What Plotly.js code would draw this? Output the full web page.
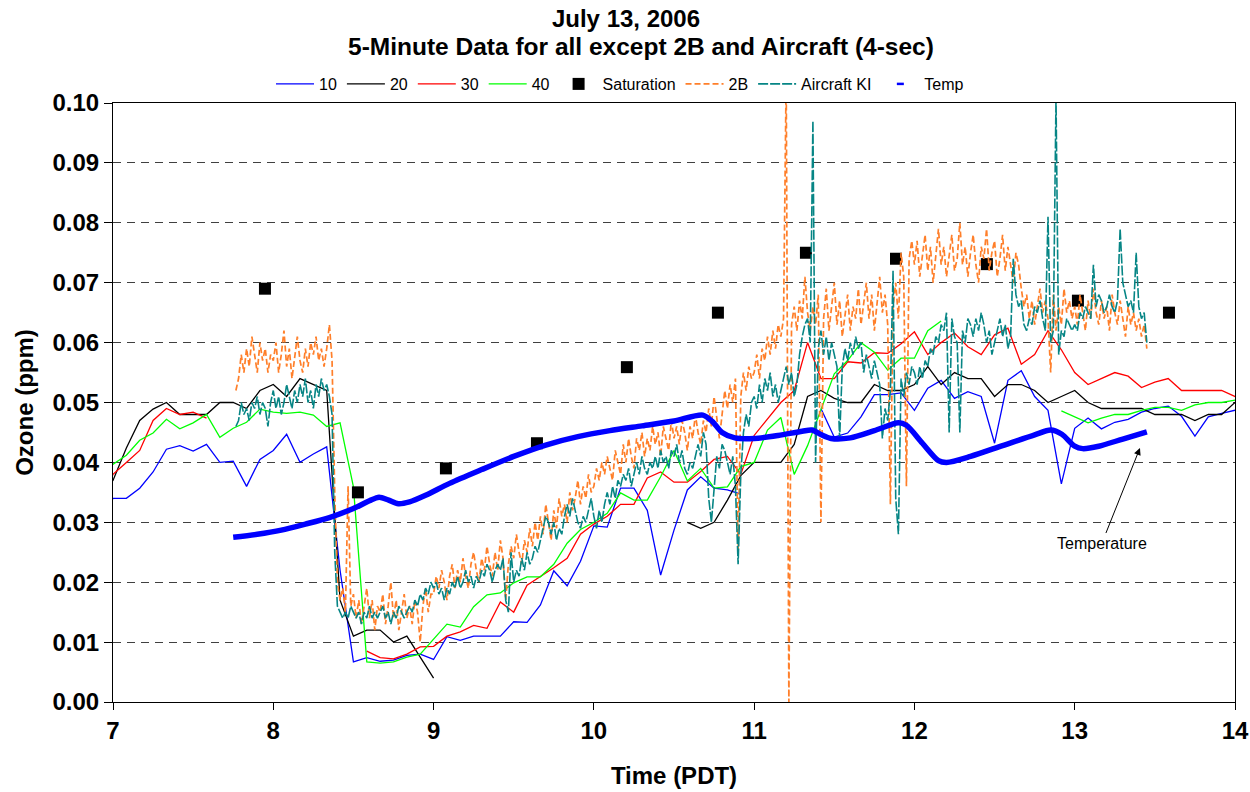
<!DOCTYPE html>
<html>
<head>
<meta charset="utf-8">
<script src="https://cdn.plot.ly/plotly-3.0.1.min.js"></script>
<style>html,body{margin:0;padding:0;background:#fff;}#chart{width:1250px;height:792px;}</style>
</head>
<body>
<div id="chart"></div>
<script>
// ---------- 5-minute data (6:55 ... 14:05, one value every 5 minutes) ----------
const fiveMinStart = 6 + 55 / 60;
const v10 = [0.030,
  0.034, 0.034, 0.0357, 0.0384, 0.0422, 0.0428, 0.0419, 0.043, 0.040, 0.0402, 0.036, 0.0405,
  0.042, 0.0447, 0.040, 0.0414, 0.0426, 0.022, 0.0067, 0.0074, 0.0068, 0.007, 0.0078, 0.008,
  0.0071, 0.0109, 0.0103, 0.011, 0.011, 0.011, 0.0134, 0.0133, 0.0162, 0.0219, 0.0194, 0.0235,
  0.0294, 0.0292, 0.0357, 0.0357, 0.032, 0.0212, 0.0287, 0.0354, 0.0376, 0.0357, 0.0354, 0.0347,
  null, null, null, null, null, 0.049, 0.0442, 0.0449, 0.0476, 0.0513, 0.0513, 0.0516,
  0.0487, 0.0524, 0.0537, 0.0507, 0.0518, 0.051, 0.0432, 0.0537, 0.0553, 0.051, 0.0487, 0.0364,
  0.0457, 0.0474, 0.0456, 0.0467, 0.0472, 0.0484, 0.049, 0.0494, 0.0477, 0.0444, 0.0476, 0.0482,
  0.0487, 0.048];
const v20 = [0.038,
  0.037, 0.0424, 0.047, 0.0489, 0.050, 0.048, 0.048, 0.048, 0.050, 0.050, 0.049, 0.052,
  0.053, 0.051, 0.054, 0.053, 0.052, 0.017, 0.011, 0.012, 0.012, 0.010, 0.011, 0.0075,
  0.004, null, null, null, null, null, null, null, null, null, null, null,
  null, null, null, null, null, null, null, 0.030, 0.029, 0.030, 0.0337, 0.0378,
  0.040, 0.040, 0.040, 0.043, 0.051, 0.052, 0.0507, 0.050, 0.050, 0.053, 0.052, 0.052,
  0.053, 0.056, 0.053, 0.055, 0.054, 0.054, 0.051, 0.053, 0.053, 0.052, 0.050, 0.051,
  0.052, 0.050, 0.049, 0.049, 0.049, 0.049, 0.048, 0.048, 0.048, 0.047, 0.048, 0.048,
  0.050, 0.049];
const v30 = [0.033,
  0.038, 0.040, 0.042, 0.047, 0.049, 0.048, 0.0484, 0.0474, null, null, null, null,
  null, null, null, null, null, null, null, 0.0085, 0.0074, 0.0072, 0.008, 0.0092,
  0.0093, 0.011, 0.0117, 0.0128, 0.0123, 0.0167, 0.015, 0.0195, 0.0209, 0.0224, 0.024, 0.028,
  0.0297, 0.031, 0.033, 0.033, 0.0374, 0.0384, 0.0367, 0.0367, 0.0385, 0.0405, 0.041, 0.038,
  0.0445, 0.0473, 0.050, 0.052, 0.060, 0.054, 0.054, 0.0568, 0.0566, 0.0583, 0.0582, 0.0598,
  0.0618, 0.058, 0.060, 0.0616, 0.0593, 0.058, 0.0613, 0.0624, 0.0564, 0.058, 0.062, 0.0588,
  0.055, 0.053, 0.054, 0.055, 0.0544, 0.0525, 0.0534, 0.054, 0.052, 0.052, 0.052, 0.052,
  0.051, 0.053];
const v40 = [0.040,
  0.0397, 0.0412, 0.0437, 0.0449, 0.0472, 0.0456, 0.0466, 0.048, 0.0442, 0.0457, 0.0467, 0.0489,
  0.0484, 0.0482, 0.0484, 0.0479, 0.046, 0.0466, 0.0359, 0.0067, 0.0065, 0.0067, 0.0075, 0.008,
  0.0105, 0.013, 0.0125, 0.0159, 0.0179, 0.0182, 0.0199, 0.0209, 0.0209, 0.023, 0.0265, 0.0288,
  0.030, 0.0315, 0.0349, 0.0337, 0.0337, 0.0376, 0.042, 0.0369, 0.039, 0.0357, 0.0359, 0.0393,
  0.040, 0.0454, 0.0475, 0.038, 0.0428, 0.0487, 0.0548, 0.057, 0.060, 0.0584, 0.0554, 0.0574,
  0.0574, 0.062, 0.0636, null, null, null, null, null, null, null, null, 0.0486,
  0.0476, 0.0466, 0.0474, 0.048, 0.048, 0.0487, 0.0492, 0.0492, 0.0487, 0.0496, 0.050, 0.050,
  0.0504, 0.050];

// ---------- Saturation ----------
const satTime = [7.948, 8.528, 9.077, 9.645, 10.206, 10.774, 11.323, 11.885, 12.452, 13.02, 13.588];
const satVal  = [0.069, 0.035, 0.039, 0.0432, 0.0559, 0.065, 0.075, 0.074, 0.0731, 0.067, 0.065];

// ---------- 2B and Aircraft KI (read at 1-minute spacing, 7:46 ... 13:27) ----------
const fastStart = 7 + 46 / 60;
const b2 = [
  0.052, 0.054, 0.058, 0.055, 0.059, 0.056, 0.061, 0.058, 0.055, 0.060, 0.057, 0.059, 0.055, 0.058,
  // 8:00
  0.057, 0.060, 0.055, 0.058, 0.062, 0.056, 0.059, 0.054, 0.058, 0.061,
  0.057, 0.055, 0.059, 0.056, 0.060, 0.058, 0.061, 0.057, 0.059, 0.056,
  0.059, 0.063, 0.057, 0.035, 0.020, 0.017, 0.019, 0.015, 0.036, 0.016,
  0.018, 0.014, 0.017, 0.013, 0.016, 0.019, 0.014, 0.017, 0.012, 0.016,
  0.015, 0.018, 0.013, 0.016, 0.020, 0.014, 0.017, 0.012, 0.015, 0.018,
  0.014, 0.016, 0.013, 0.017, 0.015, 0.010, 0.016, 0.019, 0.015, 0.018,
  // 9:00
  0.018, 0.021, 0.019, 0.022, 0.020, 0.017, 0.021, 0.023, 0.019, 0.022,
  0.020, 0.024, 0.021, 0.019, 0.023, 0.025, 0.022, 0.020, 0.024, 0.022,
  0.026, 0.023, 0.021, 0.025, 0.022, 0.027, 0.024, 0.017, 0.023, 0.026,
  0.024, 0.028, 0.025, 0.023, 0.027, 0.025, 0.029, 0.026, 0.030, 0.027,
  0.031, 0.028, 0.033, 0.030, 0.027, 0.032, 0.029, 0.034, 0.031, 0.033,
  0.030, 0.035, 0.032, 0.034, 0.037, 0.033, 0.036, 0.034, 0.038, 0.035,
  // 10:00
  0.036, 0.039, 0.037, 0.040, 0.038, 0.041, 0.039, 0.037, 0.042, 0.040,
  0.038, 0.043, 0.040, 0.044, 0.041, 0.039, 0.044, 0.042, 0.045, 0.041,
  0.044, 0.042, 0.046, 0.043, 0.045, 0.041, 0.046, 0.044, 0.042, 0.047,
  0.044, 0.046, 0.043, 0.047, 0.045, 0.042, 0.046, 0.044, 0.048, 0.045,
  0.043, 0.047, 0.045, 0.049, 0.046, 0.051, 0.047, 0.044, 0.048, 0.052,
  0.049, 0.053, 0.050, 0.054, 0.025, 0.051, 0.055, 0.052, 0.056, 0.054,
  // 11:00
  0.055, 0.058, 0.054, 0.059, 0.057, 0.061, 0.058, 0.062, 0.059, 0.063,
  0.061, 0.064, 0.105, 0.000, 0.063, 0.066, 0.062, 0.067, 0.064, 0.071,
  0.065, 0.062, 0.066, 0.063, 0.068, 0.030, 0.064, 0.069, 0.062, 0.066,
  0.070, 0.063, 0.067, 0.061, 0.065, 0.068, 0.062, 0.066, 0.064, 0.069,
  0.063, 0.067, 0.070, 0.064, 0.068, 0.062, 0.066, 0.071, 0.065, 0.068,
  0.063, 0.033, 0.066, 0.070, 0.064, 0.075, 0.071, 0.036, 0.074, 0.077,
  // 12:00
  0.073, 0.077, 0.071, 0.075, 0.078, 0.072, 0.076, 0.070, 0.074, 0.079,
  0.073, 0.076, 0.071, 0.075, 0.078, 0.072, 0.074, 0.080, 0.073, 0.076,
  0.071, 0.075, 0.078, 0.073, 0.070, 0.076, 0.074, 0.079, 0.072, 0.075,
  0.077, 0.071, 0.074, 0.078, 0.072, 0.076, 0.073, 0.070, 0.075, 0.073,
  0.069, 0.066, 0.068, 0.064, 0.067, 0.063, 0.066, 0.069, 0.065, 0.067,
  0.064, 0.055, 0.068, 0.062, 0.066, 0.063, 0.069, 0.065, 0.067, 0.064,
  // 13:00
  0.066, 0.063, 0.068, 0.065, 0.062, 0.067, 0.064, 0.069, 0.065, 0.063,
  0.067, 0.064, 0.066, 0.062, 0.068, 0.065, 0.063, 0.067, 0.064, 0.061,
  0.066, 0.063, 0.065, 0.062, 0.064, 0.061, 0.063, 0.059];
const ki = [
  0.046, 0.047, 0.050, 0.048, 0.049, 0.047, 0.050, 0.049, 0.051, 0.048, 0.050, 0.049, 0.046, 0.050,
  // 8:00
  0.052, 0.049, 0.051, 0.048, 0.050, 0.053, 0.051, 0.049, 0.052, 0.050,
  0.053, 0.051, 0.054, 0.050, 0.052, 0.049, 0.053, 0.051, 0.054, 0.052,
  0.053, 0.051, 0.048, 0.025, 0.016, 0.015, 0.014, 0.015, 0.014, 0.016,
  0.015, 0.014, 0.015, 0.013, 0.015, 0.014, 0.016, 0.014, 0.015, 0.014,
  0.015, 0.016, 0.014, 0.015, 0.013, 0.015, 0.014, 0.016, 0.015, 0.014,
  0.015, 0.016, 0.015, 0.017, 0.016, 0.018, 0.017, 0.019, 0.018, 0.020,
  // 9:00
  0.019, 0.020, 0.018, 0.019, 0.017, 0.019, 0.018, 0.020, 0.019, 0.021,
  0.019, 0.020, 0.022, 0.020, 0.021, 0.019, 0.021, 0.020, 0.022, 0.021,
  0.023, 0.022, 0.020, 0.022, 0.023, 0.022, 0.024, 0.017, 0.015, 0.025,
  0.020, 0.022, 0.021, 0.024, 0.022, 0.025, 0.023, 0.024, 0.026, 0.025,
  0.027, 0.029, 0.031, 0.030, 0.028, 0.030, 0.027, 0.029, 0.028, 0.031,
  0.033, 0.031, 0.034, 0.032, 0.030, 0.029, 0.031, 0.030, 0.032, 0.034,
  // 10:00
  0.031, 0.029, 0.032, 0.030, 0.033, 0.035, 0.033, 0.036, 0.034, 0.037,
  0.036, 0.038, 0.037, 0.039, 0.036, 0.038, 0.040, 0.038, 0.041, 0.039,
  0.038, 0.040, 0.039, 0.041, 0.039, 0.042, 0.040, 0.041, 0.039, 0.042,
  0.041, 0.043, 0.040, 0.042, 0.039, 0.038, 0.040, 0.039, 0.041, 0.043,
  0.041, 0.045, 0.043, 0.034, 0.030, 0.036, 0.041, 0.039, 0.043, 0.042,
  0.040, 0.038, 0.041, 0.036, 0.023, 0.038, 0.045, 0.048, 0.046, 0.050,
  // 11:00
  0.051, 0.049, 0.053, 0.050, 0.054, 0.052, 0.055, 0.051, 0.053, 0.050,
  0.052, 0.054, 0.056, 0.053, 0.055, 0.051, 0.053, 0.058, 0.061, 0.063,
  0.064, 0.060, 0.097, 0.040, 0.059, 0.062, 0.058, 0.061, 0.057, 0.060,
  0.058, 0.056, 0.044, 0.056, 0.059, 0.057, 0.060, 0.058, 0.061, 0.059,
  0.060, 0.055, 0.058, 0.056, 0.054, 0.057, 0.055, 0.053, 0.044, 0.049,
  0.047, 0.052, 0.072, 0.034, 0.028, 0.054, 0.051, 0.055, 0.053, 0.056,
  // 12:00
  0.055, 0.053, 0.056, 0.054, 0.057, 0.056, 0.059, 0.058, 0.061, 0.060,
  0.063, 0.062, 0.065, 0.045, 0.064, 0.061, 0.060, 0.045, 0.062, 0.060,
  0.064, 0.063, 0.061, 0.064, 0.062, 0.065, 0.063, 0.060, 0.062, 0.058,
  0.060, 0.062, 0.064, 0.061, 0.063, 0.059, 0.061, 0.074, 0.068, 0.066,
  0.067, 0.063, 0.062, 0.064, 0.063, 0.066, 0.065, 0.067, 0.064, 0.062,
  0.081, 0.060, 0.062, 0.101, 0.058, 0.062, 0.061, 0.064, 0.063, 0.062,
  // 13:00
  0.063, 0.062, 0.065, 0.064, 0.066, 0.065, 0.064, 0.073, 0.066, 0.068,
  0.067, 0.065, 0.066, 0.068, 0.066, 0.065, 0.067, 0.079, 0.070, 0.068,
  0.066, 0.067, 0.065, 0.075, 0.066, 0.064, 0.065, 0.060];

// ---------- Temperature (scaled onto the ozone axis) ----------
const tempTime = [7.75, 7.9, 8.05, 8.2, 8.35, 8.5, 8.6, 8.66, 8.72, 8.78, 8.85, 8.95, 9.1, 9.3, 9.5, 9.7, 9.9,
  10.1, 10.3, 10.5, 10.68, 10.74, 10.8, 10.88, 11.0, 11.15, 11.3, 11.36, 11.42, 11.48, 11.6, 11.75, 11.9,
  11.95, 12.05, 12.15, 12.2, 12.35, 12.55, 12.75, 12.85, 12.92, 13.0, 13.05, 13.15, 13.3, 13.45];
const tempVal = [0.0275, 0.0280, 0.0287, 0.0297, 0.0308, 0.0323, 0.0336, 0.0342, 0.0337, 0.0331, 0.0334, 0.0345,
  0.0365, 0.0388, 0.0410, 0.0429, 0.0443, 0.0453, 0.0461, 0.0469, 0.0479, 0.0468, 0.0450, 0.0441, 0.0440,
  0.0445, 0.0452, 0.0454, 0.0446, 0.0440, 0.0441, 0.0453, 0.0466, 0.0462, 0.0432, 0.0403, 0.0400, 0.0410,
  0.0428, 0.0446, 0.0454, 0.0447, 0.0427, 0.0423, 0.0427, 0.0439, 0.0451];

const legendNames = ['10', '20', '30', '40', 'Saturation', '2B', 'Aircraft KI', 'Temp'];
const yTicks = [0, 0.01, 0.02, 0.03, 0.04, 0.05, 0.06, 0.07, 0.08, 0.09, 0.10];
const xTicks = [7, 8, 9, 10, 11, 12, 13, 14];

// ---------- build ----------
const t5 = v10.map((_, i) => fiveMinStart + i / 12);
const tFast = b2.map((_, i) => fastStart + i / 60);

const FONT = 'Liberation Sans, Arial, Helvetica, sans-serif';
const line5 = (name, y, color) => ({
  type: 'scatter', mode: 'lines', name: name, x: t5, y: y,
  line: {color: color, width: 1.3}, connectgaps: false
});

const traces = [
  line5(legendNames[0], v10, '#0000FF'),
  line5(legendNames[1], v20, '#000000'),
  line5(legendNames[2], v30, '#FF0000'),
  line5(legendNames[3], v40, '#00FF00'),
  {type: 'scatter', mode: 'markers', name: legendNames[4], x: satTime, y: satVal,
   marker: {symbol: 'square', size: 12, color: '#000000'}},
  {type: 'scatter', mode: 'lines', name: legendNames[5], x: tFast, y: b2,
   line: {color: '#FF7F2A', width: 1.7, dash: '6px,3px'}},
  {type: 'scatter', mode: 'lines', name: legendNames[6], x: tFast, y: ki,
   line: {color: '#068585', width: 1.6, dash: '10px,2px'}},
  {type: 'scatter', mode: 'markers', name: legendNames[7], x: [null], y: [null], legendgroup: 'temp',
   marker: {symbol: 'line-ew-open', size: 5, color: '#0000FF', line: {color: '#0000FF', width: 2.5}}},
  {type: 'scatter', mode: 'lines', name: legendNames[7], x: tempTime, y: tempVal, legendgroup: 'temp',
   showlegend: false, line: {color: '#0000FF', width: 5.5, shape: 'spline', smoothing: 0.8}}
];

const layout = {
  width: 1250, height: 792,
  margin: {l: 113, r: 15, t: 103, b: 90},
  paper_bgcolor: '#FFFFFF', plot_bgcolor: '#FFFFFF',
  font: {family: FONT, color: '#000000', size: 16},
  title: {text: 'July 13, 2006', font: {family: FONT, size: 24, weight: 'bold'},
          xref: 'container', yref: 'container', x: 0.5008, xanchor: 'center', y: 1 - 19 / 792, yanchor: 'middle'},
  showlegend: true,
  legend: {orientation: 'h', xref: 'container', yref: 'container', x: 0.496, xanchor: 'center',
           y: 1 - 84 / 792, yanchor: 'middle', font: {family: FONT, size: 16}, bgcolor: 'rgba(0,0,0,0)',
           traceorder: 'normal', itemwidth: 38, tracegroupgap: 0},
  xaxis: {range: [7, 14], tickvals: xTicks, ticktext: xTicks.map(String), ticks: 'outside', ticklen: 7,
          tickcolor: '#000', tickfont: {family: FONT, size: 24, weight: 'bold'},
          showline: true, linecolor: '#000', linewidth: 1, mirror: true, showgrid: false, zeroline: false,
          title: {text: 'Time (PDT)', font: {family: FONT, size: 24, weight: 'bold'}, standoff: 24}},
  yaxis: {range: [0, 0.1], tickvals: yTicks, tickformat: '.2f', ticks: 'outside', ticklen: 8,
          tickcolor: '#000', tickfont: {family: FONT, size: 24, weight: 'bold'},
          showline: true, linecolor: '#000', linewidth: 1, mirror: true, zeroline: false,
          showgrid: true, gridcolor: '#404040', gridwidth: 1, griddash: '8px,6px',
          title: {text: 'Ozone (ppm)', font: {family: FONT, size: 24, weight: 'bold'}, standoff: 12}},
  annotations: [
    {xref: 'paper', yref: 'paper', x: (641 - 113) / 1122, y: (702 - 47) / 599, xanchor: 'center', yanchor: 'middle',
     text: '5-Minute Data for all except 2B and Aircraft (4-sec)', showarrow: false,
     font: {family: FONT, size: 24.5, weight: 'bold'}},
    {xref: 'x', yref: 'y', x: 13.407, y: 0.0424, text: 'Temperature', showarrow: true,
     arrowhead: 2, arrowsize: 1.4, arrowwidth: 1, arrowcolor: '#000', ax: -38, ay: 95,
     font: {family: FONT, size: 16, color: '#000'}}
  ]
};

Plotly.newPlot('chart', traces, layout, {displayModeBar: false, staticPlot: true});
</script>
</body>
</html>
